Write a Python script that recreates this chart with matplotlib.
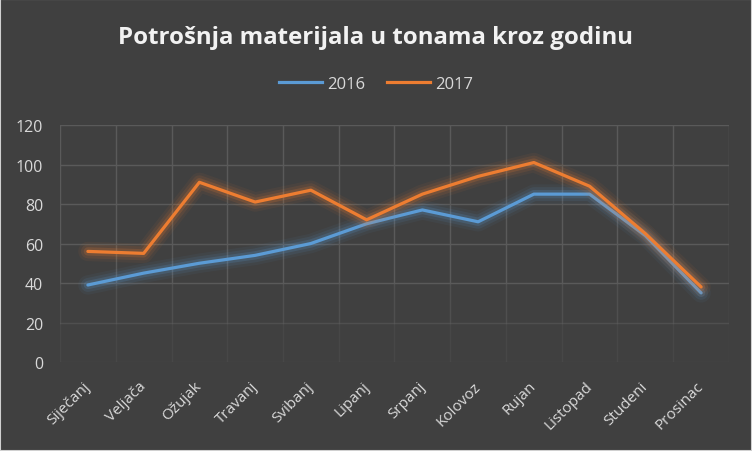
import numpy as np
import matplotlib.pyplot as plt
import matplotlib.patheffects as pe
import matplotlib.transforms as mtransforms
from matplotlib.lines import Line2D

months = ['Siječanj', 'Veljača', 'Ožujak', 'Travanj', 'Svibanj', 'Lipanj',
          'Srpanj', 'Kolovoz', 'Rujan', 'Listopad', 'Studeni', 'Prosinac']
y2016 = [39, 45, 50, 54, 60, 70, 77, 71, 85, 85, 64, 35]
y2017 = [56, 55, 91, 81, 87, 72, 85, 94, 101, 89, 65, 38]
yticks = [0, 20, 40, 60, 80, 100, 120]

bg = '#404040'
txt = '#D9D9D9'
blue = '#5B9BD5'
orange = '#ED7D31'

fig = plt.figure(figsize=(7.52, 4.52), dpi=100, facecolor=bg)
ax = fig.add_axes([0.0798, 0.1969, 0.8896, 0.5243])
ax.set_facecolor(bg)

x = np.arange(len(months))
ax.set_xlim(-0.5, len(months) - 0.5)
ax.set_ylim(0, 120)

# grid (fades towards the bottom)
for v in yticks:
    a = 1.0 if v >= 40 else (0.6 if v == 20 else 0.35)
    ax.axhline(v, color='#5A5A5A', lw=1.0, alpha=a, zorder=1)
for b in np.arange(-0.5, len(months)):
    ax.plot([b, b], [40, 120], color='#5A5A5A', lw=1.0, zorder=1)
    ax.plot([b, b], [20, 40], color='#5A5A5A', lw=1.0, alpha=0.6, zorder=1)
    ax.plot([b, b], [0, 20], color='#5A5A5A', lw=1.0, alpha=0.3, zorder=1)


def glow(c):
    return [pe.Stroke(linewidth=14, foreground=c, alpha=0.06),
            pe.Stroke(linewidth=10, foreground=c, alpha=0.10),
            pe.Stroke(linewidth=6, foreground=c, alpha=0.18),
            pe.Normal()]


ax.plot(x, y2016, color=blue, lw=2.3, solid_capstyle='round',
        path_effects=glow(blue), zorder=3)
ax.plot(x, y2017, color=orange, lw=2.3, solid_capstyle='round',
        path_effects=glow(orange), zorder=4)

for s in ax.spines.values():
    s.set_visible(False)
ax.tick_params(length=0, colors=txt)
ax.set_yticks(yticks)
ax.set_yticklabels([str(v) for v in yticks], fontfamily='Open Sans', fontsize=11.5)
ax.tick_params(axis='y', pad=12)
ax.set_xticks(x)
ax.set_xticklabels(months, rotation=45, ha='right', rotation_mode='anchor',
                   fontfamily='Open Sans', fontsize=11)
ax.tick_params(axis='x', pad=6)
shift = mtransforms.ScaledTranslation(-0.05, -0.08, fig.dpi_scale_trans)
for lab in ax.get_xticklabels():
    lab.set_transform(lab.get_transform() + shift)

fig.text(0.5, 0.915, 'Potrošnja materijala u tonama kroz godinu',
         ha='center', va='center', color='#F2F2F2', fontsize=17.3,
         fontweight='bold', fontfamily='Open Sans')

handles = [Line2D([], [], color=blue, lw=2.3), Line2D([], [], color=orange, lw=2.3)]
fig.legend(handles, ['2016', '2017'], loc='center', bbox_to_anchor=(0.5, 0.812),
           ncol=2, frameon=False, labelcolor=txt,
           handlelength=2.6, columnspacing=1.3, handletextpad=0.3,
           prop={'family': 'Open Sans', 'size': 12})

fig.patches.append(plt.Rectangle((0, 0), 1, 1, transform=fig.transFigure,
                                 fill=False, edgecolor='#D0D0D0', lw=1.5))

fig.savefig('out.png', dpi=100, facecolor=bg)
